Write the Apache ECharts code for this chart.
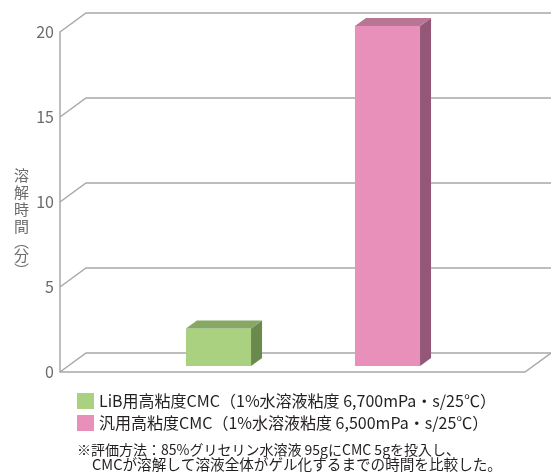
<!DOCTYPE html>
<html><head><meta charset="utf-8">
<script src="https://cdn.jsdelivr.net/npm/echarts@6/dist/echarts.min.js"></script>
<style>html,body{margin:0;padding:0;background:#fff}#c{width:551px;height:472px}</style>
</head><body><div id="c"></div>
<script>
const categories = ['LiB用高粘度CMC（1%水溶液粘度 6,700mPa・s/25℃）', '汎用高粘度CMC（1%水溶液粘度 6,500mPa・s/25℃）'];
const values = [2.2, 20];
const yTicks = [0, 5, 10, 15, 20];
const yAxisNameChars = ['溶', '解', '時', '間', '︵', '分', '︶'];
const notes = ['※評価方法：85%グリセリン水溶液 95gにCMC 5gを投入し、', 'CMCが溶解して溶液全体がゲル化するまでの時間を比較した。'];

const FONT = '"Noto Sans CJK JP", "Noto Sans", sans-serif';
const palettes = [
  {front: '#A9D17F', side: '#6A8A4D', top: '#87A865'},
  {front: '#E890BA', side: '#935877', top: '#B97594'}
];
const FDX = 26, FDY = -19;   // frame depth
const BDX = 11, BDY = -8;    // bar depth
const GRID_COLOR = '#A8A8A8';

const chart = echarts.init(document.getElementById('c'), null, {renderer: 'canvas'});

const frameSeries = {
  type: 'custom', xAxisIndex: 0, yAxisIndex: 0, silent: true, z: 1,
  data: yTicks.map(v => [0, v]),
  renderItem: function (params, api) {
    const v = api.value(1);
    const a = api.coord([0, v]);
    const b = api.coord([1, v]);
    const style = {stroke: GRID_COLOR, lineWidth: 1.5, fill: null};
    const children = [{
      type: 'polyline',
      shape: {points: [a, [a[0] + FDX, a[1] + FDY], [b[0] + FDX, b[1] + FDY]]},
      style: style
    }];
    if (v === 0) {
      children.push({
        type: 'polyline',
        shape: {points: [a, b, [b[0] + FDX, b[1] + FDY]]},
        style: style
      });
    }
    return {type: 'group', children: children};
  }
};

const barSeries = categories.map((name, i) => ({
  type: 'custom', name: name, xAxisIndex: 1, yAxisIndex: 1, z: 5,
  itemStyle: {color: palettes[i].front},
  data: [[i, values[i]]],
  renderItem: function (params, api) {
    const pal = palettes[params.seriesIndex - 1];
    const idx = api.value(0), v = api.value(1);
    const c0 = api.coord([idx, 0]);
    const c1 = api.coord([idx, v]);
    const bw = api.size([1, 0])[0] * 0.385;
    const x0 = c0[0] - bw / 2, x1 = c0[0] + bw / 2, yb = c0[1], yt = c1[1];
    return {type: 'group', children: [
      {type: 'polygon', shape: {points: [[x0, yb], [x1, yb], [x1, yt], [x0, yt]]}, style: {fill: pal.front}},
      {type: 'polygon', shape: {points: [[x1, yb], [x1 + BDX, yb + BDY], [x1 + BDX, yt + BDY], [x1, yt]]}, style: {fill: pal.side}},
      {type: 'polygon', shape: {points: [[x0, yt], [x1, yt], [x1 + BDX, yt + BDY], [x0 + BDX, yt + BDY]]}, style: {fill: pal.top}}
    ]};
  }
}));

const nameRich = yAxisNameChars.map(ch => (ch === '︵' || ch === '︶') ? '{p|' + ch + '}' : '{k|' + ch + '}').join('\n');

chart.setOption({
  animation: false,
  textStyle: {fontFamily: FONT},
  grid: [
    {left: 60, right: 26, top: 32, bottom: 100},
    {left: 134, right: 79, top: 26, bottom: 106}
  ],
  xAxis: [
    {gridIndex: 0, type: 'value', min: 0, max: 1, show: false},
    {gridIndex: 1, type: 'category', data: categories, show: false}
  ],
  yAxis: [
    {gridIndex: 0, type: 'value', min: 0, max: 20, interval: 5,
     axisLine: {show: true, lineStyle: {color: GRID_COLOR, width: 1.5}},
     axisTick: {show: false}, splitLine: {show: false},
     axisLabel: {color: '#6b6b6b', fontSize: 16, margin: 6, fontFamily: FONT}},
    {gridIndex: 1, type: 'value', min: 0, max: 20, show: false}
  ],
  legend: {
    data: categories, orient: 'vertical', left: 77, top: 393, padding: 0,
    itemWidth: 17, itemHeight: 16, itemGap: 6, icon: 'rect', selectedMode: false,
    textStyle: {fontSize: 16, color: '#231F20', fontFamily: FONT}
  },
  graphic: [
    {type: 'text', left: 14, top: 168, style: {
      text: nameRich, fill: '#6b6b6b', fontFamily: FONT, align: 'center',
      rich: {
        k: {fontSize: 15, lineHeight: 17, fill: '#6b6b6b', fontFamily: FONT},
        p: {fontSize: 15, lineHeight: 12, fill: '#6b6b6b', fontFamily: FONT}
      }
    }},
    {type: 'text', left: 77, top: 443, style: {text: notes[0], fontSize: 14, fill: '#231F20', fontFamily: FONT}},
    {type: 'text', left: 92, top: 457, style: {text: notes[1], fontSize: 14.6, fill: '#231F20', fontFamily: FONT}}
  ],
  series: [frameSeries].concat(barSeries)
});
</script>
</body></html>
